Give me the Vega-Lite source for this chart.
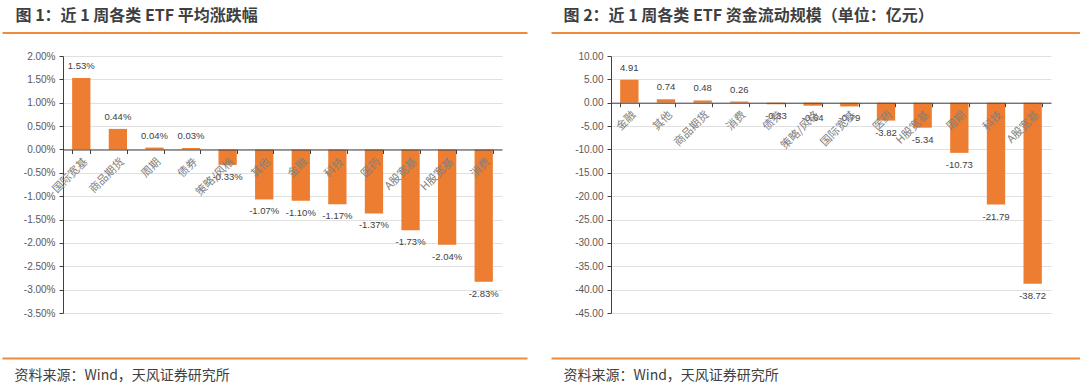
{
  "$schema": "https://vega.github.io/schema/vega-lite/v6.json",
  "padding": {"left": 14, "top": 7, "right": 0, "bottom": 0},
  "bounds": "flush",
  "spacing": 109,
  "config": {
    "view": {"stroke": null},
    "font": "Liberation Sans",
    "locale": {"number": {"decimal": ".", "thousands": ",", "grouping": [3], "currency": ["$", ""], "minus": "-"}}
  },
  "hconcat": [
    {
      "width": 439,
      "height": 257,
      "layer": [
        {
          "data": {"values": [
            {"c": "国际宽基", "v": 0.0153},
            {"c": "商品期货", "v": 0.0044},
            {"c": "周期", "v": 0.0004},
            {"c": "债券", "v": 0.0003},
            {"c": "策略/风格", "v": -0.0033},
            {"c": "其他", "v": -0.0107},
            {"c": "金融", "v": -0.0110},
            {"c": "科技", "v": -0.0117},
            {"c": "医药", "v": -0.0137},
            {"c": "A股宽基", "v": -0.0173},
            {"c": "H股宽基", "v": -0.0204},
            {"c": "消费", "v": -0.0283}
          ]},
          "encoding": {
            "x": {"field": "c", "type": "nominal", "sort": null,
              "scale": {"paddingInner": 0.5, "paddingOuter": 0.25},
              "axis": {"orient": "bottom", "offset": -163.5, "title": null, "labelAngle": -45, "tickBand": "extent",
                "domainColor": "#404040", "tickColor": "#404040", "tickSize": 4, "labelPadding": 2,
                "labelColor": "#808080", "labelFont": "Noto Sans CJK SC", "labelFontSize": 11, "zindex": 1}},
            "y": {"field": "v", "type": "quantitative",
              "scale": {"domain": [-0.035, 0.02], "nice": false, "zero": false},
              "axis": {"title": null, "format": ".2%", "values": [-0.035, -0.03, -0.025, -0.02, -0.015, -0.01, -0.005, 0, 0.005, 0.01, 0.015, 0.02],
                "grid": true, "gridColor": "#e0e0e0", "domainColor": "#404040", "tickColor": "#404040", "tickSize": 4,
                "labelPadding": 4, "labelColor": "#595959", "labelFontSize": 10}}
          },
          "layer": [
            {"mark": {"type": "bar", "color": "#ED7D31"}},
            {"transform": [{"filter": "datum.v >= 0"}],
             "mark": {"type": "text", "dy": -12, "baseline": "middle", "fontSize": 9.5, "color": "#404040"},
             "encoding": {"text": {"field": "v", "format": ".2%"}}},
            {"transform": [{"filter": "datum.v < 0"}],
             "mark": {"type": "text", "dy": 12, "baseline": "middle", "fontSize": 9.5, "color": "#404040"},
             "encoding": {"text": {"field": "v", "format": ".2%"}}}
          ]
        },
        {
          "data": {"values": []},
          "mark": {"type": "point", "opacity": 0, "size": 0},
          "encoding": {"x": {"field": "h", "type": "quantitative",
            "scale": {"domain": [0, 1], "range": [-61, 464], "nice": false, "zero": false},
            "axis": {"orient": "top", "offset": 23.4, "labels": false, "ticks": false, "grid": false,
              "domainColor": "#EE8A3C", "domainWidth": 2,
              "title": "图 1：近 1 周各类 ETF 平均涨跌幅", "titleX": -48, "titleY": -17, "titleAlign": "left", "titleBaseline": "middle",
              "titleFont": "Noto Sans CJK SC", "titleFontSize": 16, "titleFontWeight": "bold", "titleColor": "#3f3f3f"}}}
        },
        {
          "data": {"values": []},
          "mark": {"type": "point", "opacity": 0, "size": 0},
          "encoding": {"x": {"field": "h", "type": "quantitative",
            "scale": {"domain": [0, 1], "range": [-61, 464], "nice": false, "zero": false},
            "axis": {"orient": "bottom", "offset": 45, "labels": false, "ticks": false, "grid": false,
              "domainColor": "#EE8A3C", "domainWidth": 2,
              "title": "资料来源：Wind，天风证券研究所", "titleX": -49, "titleY": 17.5, "titleAlign": "left", "titleBaseline": "middle",
              "titleFont": "Noto Sans CJK SC", "titleFontSize": 14, "titleFontWeight": "normal", "titleColor": "#404040"}}}
        }
      ],
      "resolve": {"scale": {"x": "independent"}}
    },
    {
      "width": 440,
      "height": 257,
      "layer": [
        {
          "data": {"values": [
            {"c": "金融", "v": 4.91},
            {"c": "其他", "v": 0.74},
            {"c": "商品期货", "v": 0.48},
            {"c": "消费", "v": 0.26},
            {"c": "债券", "v": -0.33},
            {"c": "策略/风格", "v": -0.64},
            {"c": "国际宽基", "v": -0.79},
            {"c": "医药", "v": -3.82},
            {"c": "H股宽基", "v": -5.34},
            {"c": "周期", "v": -10.73},
            {"c": "科技", "v": -21.79},
            {"c": "A股宽基", "v": -38.72}
          ]},
          "encoding": {
            "x": {"field": "c", "type": "nominal", "sort": null,
              "scale": {"paddingInner": 0.5, "paddingOuter": 0.25},
              "axis": {"orient": "bottom", "offset": -210.3, "title": null, "labelAngle": -45, "tickBand": "extent",
                "domainColor": "#404040", "tickColor": "#404040", "tickSize": 4, "labelPadding": 2,
                "labelColor": "#808080", "labelFont": "Noto Sans CJK SC", "labelFontSize": 11, "zindex": 1}},
            "y": {"field": "v", "type": "quantitative",
              "scale": {"domain": [-45, 10], "nice": false, "zero": false},
              "axis": {"title": null, "format": ".2f", "values": [-45, -40, -35, -30, -25, -20, -15, -10, -5, 0, 5, 10],
                "grid": true, "gridColor": "#e0e0e0", "domainColor": "#404040", "tickColor": "#404040", "tickSize": 4,
                "labelPadding": 4, "labelColor": "#595959", "labelFontSize": 10}}
          },
          "layer": [
            {"mark": {"type": "bar", "color": "#ED7D31"}},
            {"transform": [{"filter": "datum.v >= 0"}],
             "mark": {"type": "text", "dy": -12, "baseline": "middle", "fontSize": 9.5, "color": "#404040"},
             "encoding": {"text": {"field": "v", "format": ".2f"}}},
            {"transform": [{"filter": "datum.v < 0"}],
             "mark": {"type": "text", "dy": 12, "baseline": "middle", "fontSize": 9.5, "color": "#404040"},
             "encoding": {"text": {"field": "v", "format": ".2f"}}}
          ]
        },
        {
          "data": {"values": []},
          "mark": {"type": "point", "opacity": 0, "size": 0},
          "encoding": {"x": {"field": "h", "type": "quantitative",
            "scale": {"domain": [0, 1], "range": [-60, 469], "nice": false, "zero": false},
            "axis": {"orient": "top", "offset": 23.4, "labels": false, "ticks": false, "grid": false,
              "domainColor": "#EE8A3C", "domainWidth": 2,
              "title": "图 2：近 1 周各类 ETF 资金流动规模（单位：亿元）", "titleX": -48, "titleY": -17, "titleAlign": "left", "titleBaseline": "middle",
              "titleFont": "Noto Sans CJK SC", "titleFontSize": 16, "titleFontWeight": "bold", "titleColor": "#3f3f3f"}}}
        },
        {
          "data": {"values": []},
          "mark": {"type": "point", "opacity": 0, "size": 0},
          "encoding": {"x": {"field": "h", "type": "quantitative",
            "scale": {"domain": [0, 1], "range": [-60, 469], "nice": false, "zero": false},
            "axis": {"orient": "bottom", "offset": 45, "labels": false, "ticks": false, "grid": false,
              "domainColor": "#EE8A3C", "domainWidth": 2,
              "title": "资料来源：Wind，天风证券研究所", "titleX": -48, "titleY": 17.5, "titleAlign": "left", "titleBaseline": "middle",
              "titleFont": "Noto Sans CJK SC", "titleFontSize": 14, "titleFontWeight": "normal", "titleColor": "#404040"}}}
        }
      ],
      "resolve": {"scale": {"x": "independent"}}
    }
  ]
}
